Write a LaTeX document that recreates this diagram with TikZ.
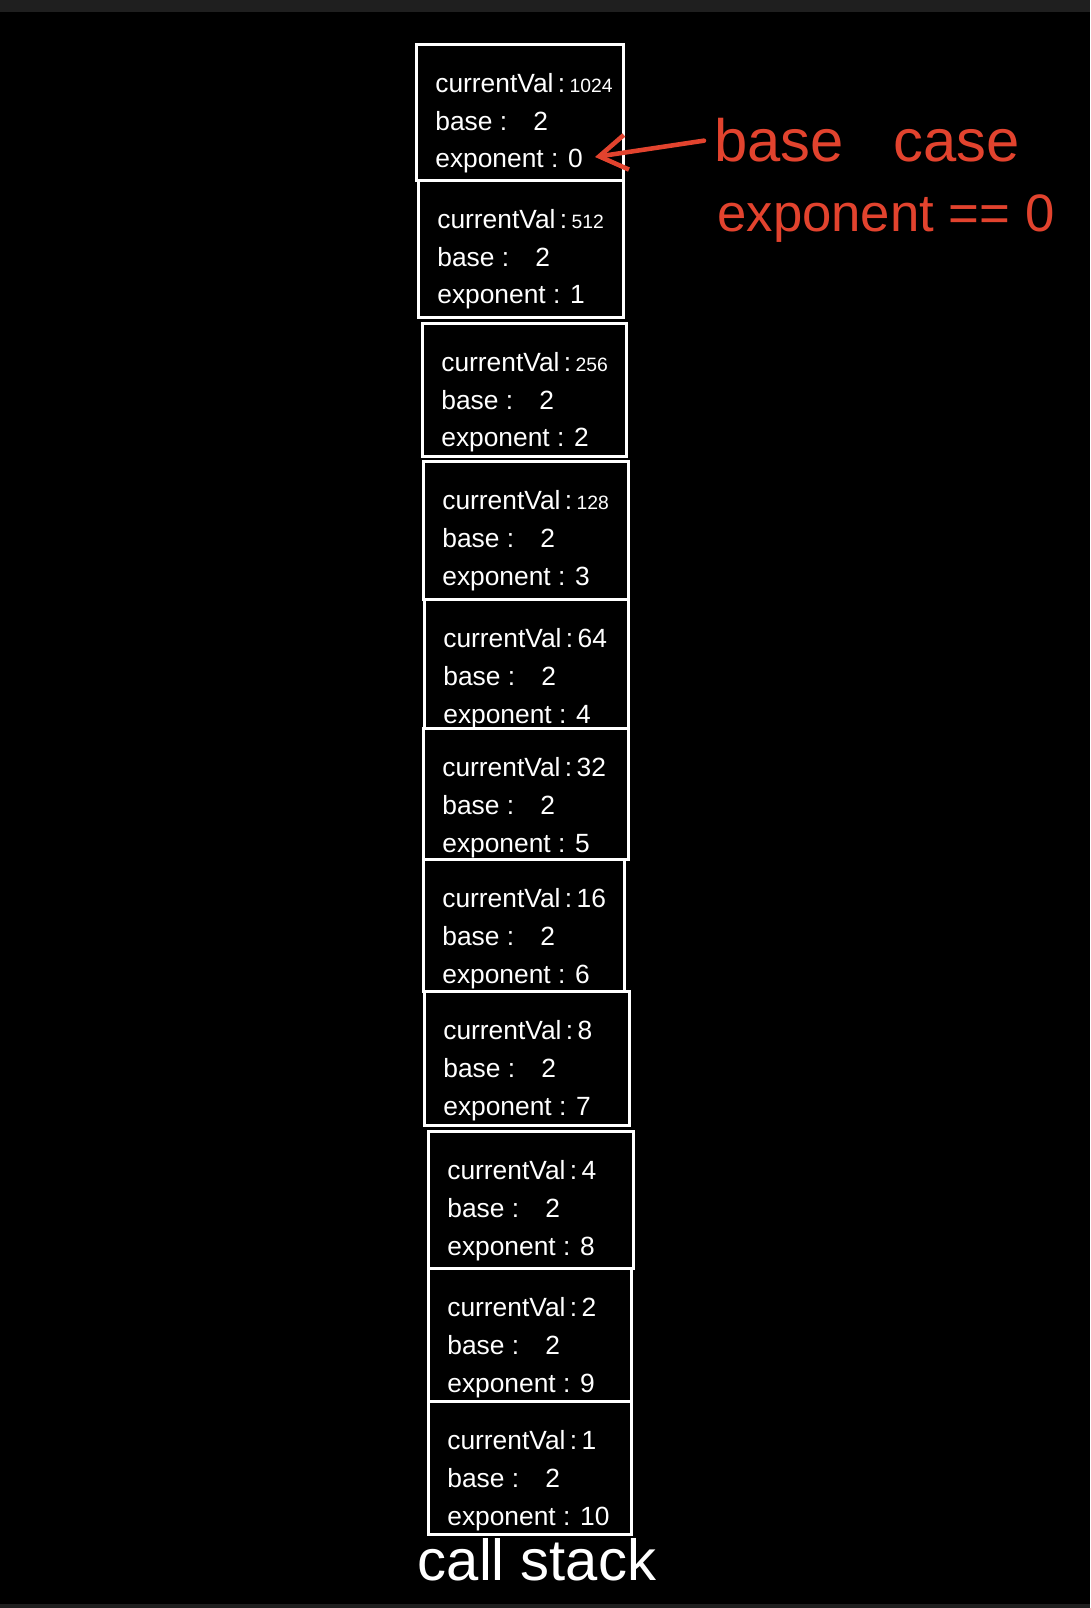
\documentclass[tikz,border=0pt]{standalone}
\usepackage{fontspec}
\setmainfont{Liberation Sans}
\usetikzlibrary{arrows.meta}
\definecolor{annot}{HTML}{E2432E}
\definecolor{topbar}{HTML}{1F1F1F}
\newcommand{\smallnum}[1]{{\fontsize{11}{12}\selectfont #1}}
\tikzset{
  stackframe/.style={draw=white, line width=1.5pt, inner sep=0pt, anchor=north west},
  frametext/.style={text=white, align=left, inner sep=0pt, anchor=north west,
    font=\fontsize{15}{21.5}\selectfont},
  note/.style={text=annot, inner sep=0pt, anchor=base west}
}
\begin{document}
\begin{tikzpicture}[x=0.02cm, y=-0.02cm, >={Straight Barb[length=5.5mm,width=7mm]}]
  \useasboundingbox (0,0) rectangle (1090,1608);
  \fill[black] (0,0) rectangle (1090,1608);
  \fill[topbar] (0,0) rectangle (1090,12);
  \fill[topbar] (0,1604) rectangle (1090,1608);
  % stack frames: index/top/bottom/left/right/currentVal/exponent
  \foreach \i/\t/\b/\l/\r/\cv/\ex in {
      1/43/179/415/622/\smallnum{1024}/0,
      2/179/316/417/622/\smallnum{512}/1,
      3/322/455/421/625/\smallnum{256}/2,
      4/460/598/422/627/\smallnum{128}/3,
      5/598/727/423/627/64/4,
      6/727/858/422/627/32/5,
      7/858/990/422/623/16/6,
      8/990/1124/423/628/8/7,
      9/1130/1267/427/632/4/8,
      10/1267/1400/427/630/2/9,
      11/1400/1533/427/630/1/10}
  {
    \node[stackframe, minimum width={(\r-\l)*0.02cm}, minimum height={(\b-\t)*0.02cm}]
      (frame\i) at (\l,\t) {};
    \node[frametext] (vars\i) at ([shift={(20,30)}]frame\i.north west)
      {currentVal\,:\,\cv\\ base :\quad 2\\ exponent : \ex};
  }
  % annotation of the base case
  \coordinate (tip) at (595,157);
  \node[note, font=\fontsize{34}{40}\selectfont] (basecase) at (714,162) {base\ \ \ case};
  \node[note, font=\fontsize{30}{36}\selectfont] (condition) at (717,232) {exponent == 0};
  \draw[->, annot, line width=2.6pt, line cap=round] ([xshift=-0.2cm]basecase.west) -- (tip);
  \node[text=white, font=\fontsize{33}{38}\selectfont, anchor=base] (callstack) at (537,1580) {call stack};
\end{tikzpicture}
\end{document}
